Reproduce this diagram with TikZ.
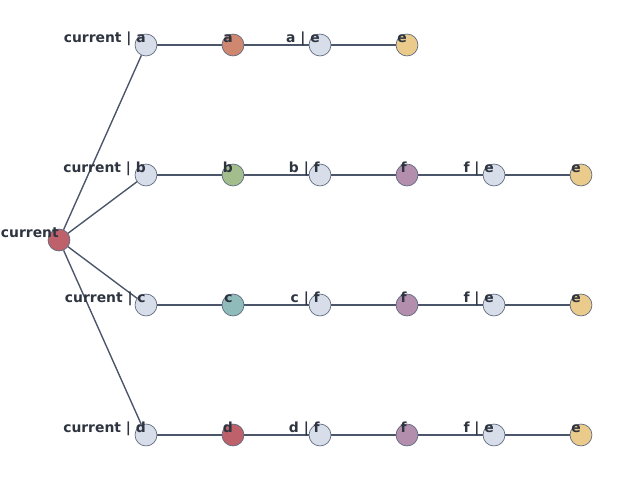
\documentclass[tikz,border=0pt]{standalone}
\usepackage{fontspec}
\setmainfont{DejaVu Sans}
\definecolor{nordtext}{HTML}{2E3440}
\definecolor{nordedge}{HTML}{4C566A}
\definecolor{nordline}{HTML}{5E6A7E}
\definecolor{nlight}{HTML}{D8DEE9}
\definecolor{nred}{HTML}{BF616A}
\definecolor{norange}{HTML}{D08770}
\definecolor{nyellow}{HTML}{EBCB8B}
\definecolor{ngreen}{HTML}{A3BE8C}
\definecolor{npurple}{HTML}{B48EAD}
\definecolor{nteal}{HTML}{8FBCBB}
\tikzset{
  vert/.style={circle, draw=nordline, line width=0.5pt, minimum size=15.8pt, inner sep=0pt},
  link/.style={draw=nordedge, line width=1pt},
  lbl/.style={anchor=base east, inner sep=0pt, yshift=2.16pt, text=nordtext,
              font=\fontsize{10}{12}\selectfont\bfseries},
}
\begin{document}
\begin{tikzpicture}[x=0.72pt, y=-0.72pt]
\useasboundingbox (0,0) rectangle (640,480);
% vertices
\node[vert, fill=nred] (cur) at (59,240) {};
% row a
\node[vert, fill=nlight] (a1) at (146,45) {};
\node[vert, fill=norange] (a2) at (233,45) {};
\node[vert, fill=nlight] (a3) at (320,45) {};
\node[vert, fill=nyellow] (a4) at (407,45) {};
% row b
\node[vert, fill=nlight] (b1) at (146,175) {};
\node[vert, fill=ngreen] (b2) at (233,175) {};
\node[vert, fill=nlight] (b3) at (320,175) {};
\node[vert, fill=npurple] (b4) at (407,175) {};
\node[vert, fill=nlight] (b5) at (494,175) {};
\node[vert, fill=nyellow] (b6) at (581,175) {};
% row c
\node[vert, fill=nlight] (c1) at (146,305) {};
\node[vert, fill=nteal] (c2) at (233,305) {};
\node[vert, fill=nlight] (c3) at (320,305) {};
\node[vert, fill=npurple] (c4) at (407,305) {};
\node[vert, fill=nlight] (c5) at (494,305) {};
\node[vert, fill=nyellow] (c6) at (581,305) {};
% row d
\node[vert, fill=nlight] (d1) at (146,435) {};
\node[vert, fill=nred] (d2) at (233,435) {};
\node[vert, fill=nlight] (d3) at (320,435) {};
\node[vert, fill=npurple] (d4) at (407,435) {};
\node[vert, fill=nlight] (d5) at (494,435) {};
\node[vert, fill=nyellow] (d6) at (581,435) {};
% connectors
\path[link] (cur) -- (a1) (cur) -- (b1) (cur) -- (c1) (cur) -- (d1);
\path[link] (a1) -- (a2) -- (a3) -- (a4);
\path[link] (b1) -- (b2) -- (b3) -- (b4) -- (b5) -- (b6);
\path[link] (c1) -- (c2) -- (c3) -- (c4) -- (c5) -- (c6);
\path[link] (d1) -- (d2) -- (d3) -- (d4) -- (d5) -- (d6);
% labels
\node[lbl] (lcur) at (cur) {current};
\node[lbl] (la1) at (a1) {current | a};
\node[lbl] (la2) at (a2) {a};
\node[lbl] (la3) at (a3) {a | e};
\node[lbl] (la4) at (a4) {e};
\node[lbl] (lb1) at (b1) {current | b};
\node[lbl] (lb2) at (b2) {b};
\node[lbl] (lb3) at (b3) {b | f};
\node[lbl] (lb4) at (b4) {f};
\node[lbl] (lb5) at (b5) {f | e};
\node[lbl] (lb6) at (b6) {e};
\node[lbl] (lc1) at (c1) {current | c};
\node[lbl] (lc2) at (c2) {c};
\node[lbl] (lc3) at (c3) {c | f};
\node[lbl] (lc4) at (c4) {f};
\node[lbl] (lc5) at (c5) {f | e};
\node[lbl] (lc6) at (c6) {e};
\node[lbl] (ld1) at (d1) {current | d};
\node[lbl] (ld2) at (d2) {d};
\node[lbl] (ld3) at (d3) {d | f};
\node[lbl] (ld4) at (d4) {f};
\node[lbl] (ld5) at (d5) {f | e};
\node[lbl] (ld6) at (d6) {e};
\end{tikzpicture}
\end{document}
